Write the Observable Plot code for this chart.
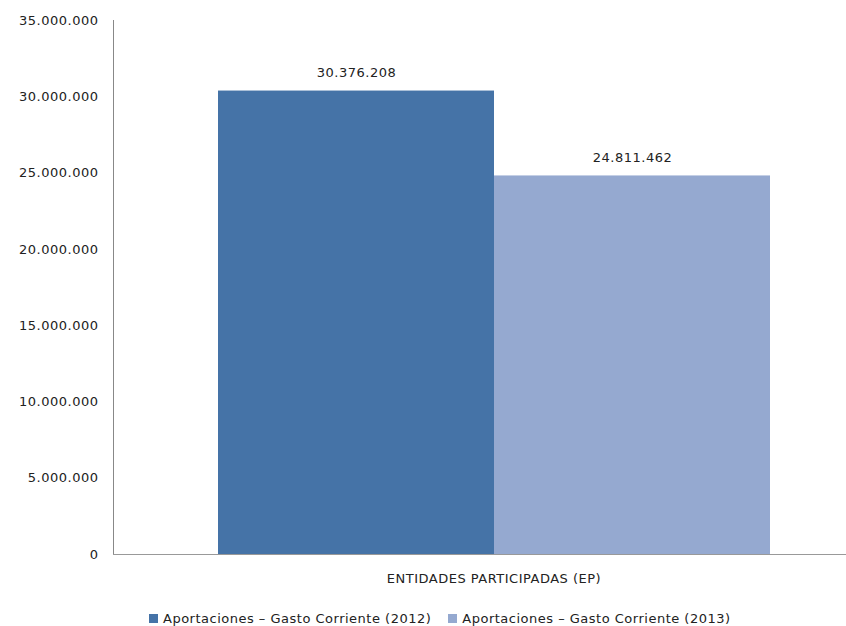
<!DOCTYPE html>
<html>
<head>
<meta charset="utf-8">
<script src="https://cdn.jsdelivr.net/npm/d3@7"></script>
<script src="https://cdn.jsdelivr.net/npm/@observablehq/plot@0.6"></script>
<style>
  html, body { margin: 0; padding: 0; background: #fff; }
  #chart { width: 846px; }
  #chart svg text { letter-spacing: 0.5px; }
  .legend { display: flex; align-items: center; height: 36px; padding-left: 149px;
    font-family: "DejaVu Sans", sans-serif; font-size: 13px; letter-spacing: 0.5px; color: #222; }
  .legend .item { display: flex; align-items: center; }
  .legend .sw { width: 9px; height: 9px; margin-right: 5px; }
</style>
</head>
<body>
<div id="chart"></div>
<script>
const category = "ENTIDADES PARTICIPADAS (EP)";
const series = ["Aportaciones – Gasto Corriente (2012)", "Aportaciones – Gasto Corriente (2013)"];
const values = [30376208, 24811462];
const colors = ["#4573a7", "#95a9d0"];
const yTicks = [0, 5000000, 10000000, 15000000, 20000000, 25000000, 30000000, 35000000];

const data = series.map((s, i) => ({series: s, value: values[i]}));
const loc = d3.formatLocale({decimal: ",", thousands: ".", grouping: [3], currency: ["", ""]});
const fmt = loc.format(",d");

const plot = Plot.plot({
  width: 846,
  height: 600,
  marginLeft: 113,
  marginRight: 0,
  marginTop: 20,
  marginBottom: 46,
  style: {fontFamily: "DejaVu Sans, sans-serif", fontSize: "13px", color: "#222", background: "#fff"},
  x: {domain: series, range: [217, 770], padding: 0, axis: null},
  y: {domain: [0, 35000000], ticks: yTicks, tickFormat: fmt, tickSize: 0, tickPadding: 15, label: null},
  color: {domain: series, range: colors},
  marks: [
    Plot.barY(data, {x: "series", y: "value", fill: "series", inset: 0}),
    Plot.text(data, {x: "series", y: "value", text: d => fmt(d.value), dy: -18, fill: "#222"}),
    Plot.frame({anchor: "left", stroke: "#888"}),
    Plot.frame({anchor: "bottom", stroke: "#999"}),
    Plot.text([category], {frameAnchor: "bottom", text: d => d, dy: 28, dx: 14, fill: "#222"})
  ]
});
document.getElementById("chart").appendChild(plot);

const legend = document.createElement("div");
legend.className = "legend";
series.forEach((s, i) => {
  const it = document.createElement("div");
  it.className = "item";
  it.style.marginRight = i === 0 ? "17px" : "0";
  const sw = document.createElement("span");
  sw.className = "sw";
  sw.style.background = colors[i];
  const t = document.createElement("span");
  t.textContent = s;
  it.appendChild(sw); it.appendChild(t);
  legend.appendChild(it);
});
document.getElementById("chart").appendChild(legend);
</script>
</body>
</html>
